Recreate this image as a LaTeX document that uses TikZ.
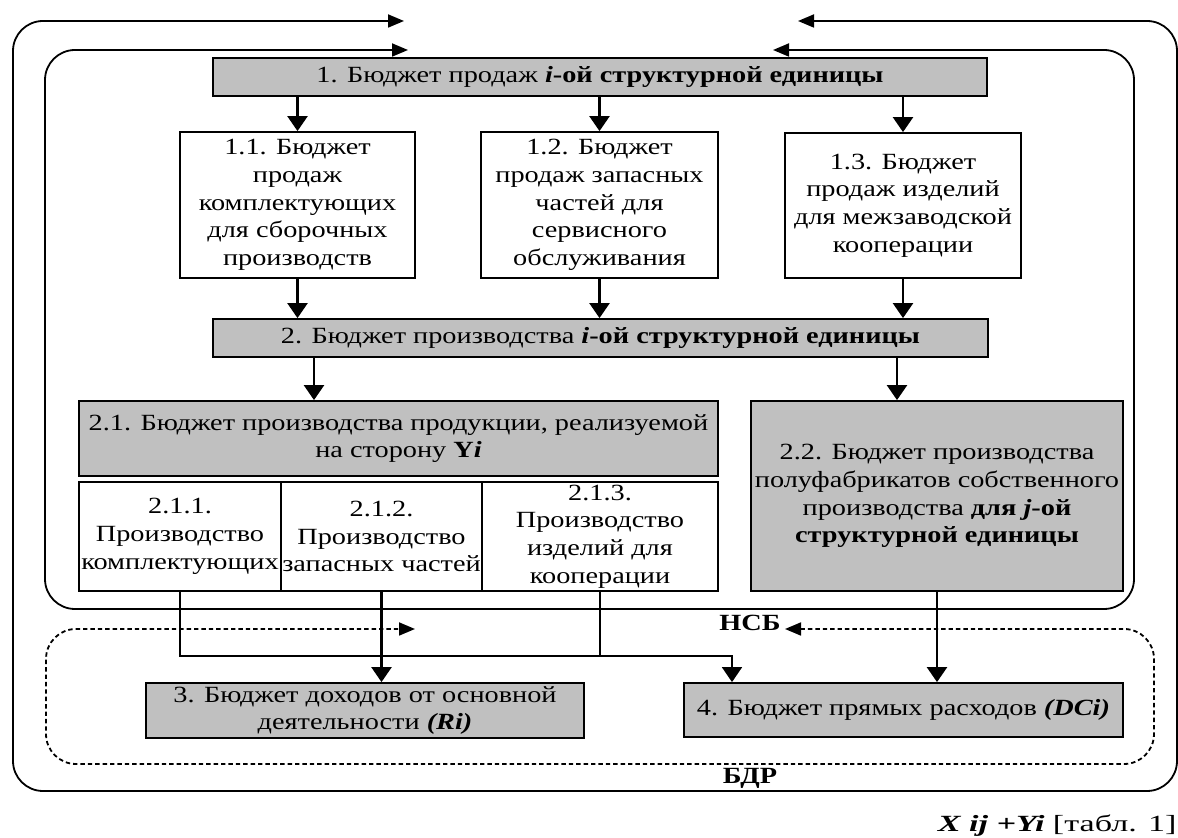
\documentclass[tikz,border=0pt]{standalone}
\usepackage{fontspec}
\setmainfont{Liberation Serif}[FakeStretch=1.22]
\newfontfamily\srcfont{Liberation Serif}[FakeStretch=1.47]
\usetikzlibrary{arrows.meta}
\definecolor{boxgray}{RGB}{192,192,192}

\begin{document}
\begin{tikzpicture}[x=0.5pt, y=-0.5pt, font=\fontsize{11.6}{13.85}\selectfont,
		box/.style={draw, line width=0.9pt, align=center, inner sep=0.5pt},
		grey/.style={box, fill=boxgray},
		arr/.style={line width=1.2pt, -{Triangle[length=7.5pt,width=10pt]}},
		frame/.style={line width=0.9pt, rounded corners=15pt, {Triangle[length=8pt,width=6.5pt]}-{Triangle[length=8pt,width=6.5pt]}}]
		
		\path[use as bounding box, fill=white] (0,0) rectangle (1178,838);
		
		\draw[frame] (798,21) -- (1177,21) -- (1177,791) -- (13,791) -- (13,21) -- (404,21);
		\draw[frame] (773,50) -- (1134,50) -- (1134,609) -- (45,609) -- (45,50) -- (408,50);
		\draw[frame, dash pattern=on 2.2pt off 1.5pt] (785,629) -- (1154,629) -- (1154,764) -- (46,764) -- (46,629) -- (415,629);
		
		\node[grey, minimum width=387pt, minimum height=19pt] (b1) at (600,77) {1. Бюджет продаж \textbf{\textit{i}-ой структурной единицы}};
		\node[box, minimum width=117.5pt, minimum height=73pt] (b11) at (297.5,205) {1.1. Бюджет\\продаж\\комплектующих\\для сборочных\\производств};
		\node[box, minimum width=118.5pt, minimum height=73pt] (b12) at (599.5,205) {1.2. Бюджет\\продаж запасных\\частей для\\сервисного\\обслуживания};
		\node[box, minimum width=118pt, minimum height=72.5pt] (b13) at (903,205.5) {1.3. Бюджет\\продаж изделий\\для межзаводской\\кооперации};
		\node[grey, minimum width=387.5pt, minimum height=19pt] (b2) at (600.5,338) {2. Бюджет производства \textbf{\textit{i}-ой структурной единицы}};
		\node[grey, minimum width=319.5pt, minimum height=37.5pt] (b21) at (398.5,438.5) {2.1. Бюджет производства продукции, реализуемой\\на сторону \textbf{Y\textit{i}}};
		\node[box, minimum width=101pt, minimum height=54.5pt] (b211) at (180,536.5) {2.1.1.\\Производство\\комплектующих};
		\node[box, minimum width=100.5pt, minimum height=54.5pt] (b212) at (381.5,536.5) {2.1.2.\\Производство\\запасных частей};
		\node[box, minimum width=118pt, minimum height=54.5pt] (b213) at (600,536.5) {2.1.3.\\Производство\\изделий для\\кооперации};
		\node[grey, minimum width=186pt, minimum height=95pt] (b22) at (937,496) {2.2. Бюджет производства\\полуфабрикатов собственного\\производства \textbf{для \textit{j}-ой}\\\textbf{структурной единицы}};
		\node[grey, minimum width=219pt, minimum height=27.5pt] (b3) at (365,710.5) {3. Бюджет доходов от основной\\деятельности \textbf{\textit{(Ri)}}};
		\node[grey, minimum width=219.5pt, minimum height=27pt] (b4) at (903.5,710) {4. Бюджет прямых расходов \textbf{\textit{(DCi)}}};
		
		\node (nsb) at (750,623) {\bfseries НСБ};
		\node (bdr) at (750,778) {\bfseries БДР};
		\node[anchor=east, inner sep=0pt] (src) at (1177,826) {\srcfont\textbf{\textit{X ij +Yi}} [табл. 1]};
		
		\coordinate (k21) at (314,380);
		\coordinate (k22) at (897,380);
		\coordinate (jn) at (732,656);
		
		\draw[arr] (b11.north |- b1.south) -- (b11.north);
		\draw[arr] (b12.north |- b1.south) -- (b12.north);
		\draw[arr] (b13.north |- b1.south) -- (b13.north);
		\draw[arr] (b11.south) -- (b11.south |- b2.north);
		\draw[arr] (b12.south) -- (b12.south |- b2.north);
		\draw[arr] (b13.south) -- (b13.south |- b2.north);
		\draw[arr] (b2.south -| k21) -- (b21.north -| k21);
		\draw[arr] (b2.south -| k22) -- (b22.north -| k22);
		\draw[arr, line width=0.9pt] (b211.south) |- (jn) -- (jn |- b4.north);
		\draw[line width=0.9pt] (b213.south) -- (b213.south |- jn);
		\draw[arr] (b212.south) -- (b212.south |- b3.north);
		\draw[arr] (b22.south) -- (b22.south |- b4.north);
	\end{tikzpicture}
\end{document}
